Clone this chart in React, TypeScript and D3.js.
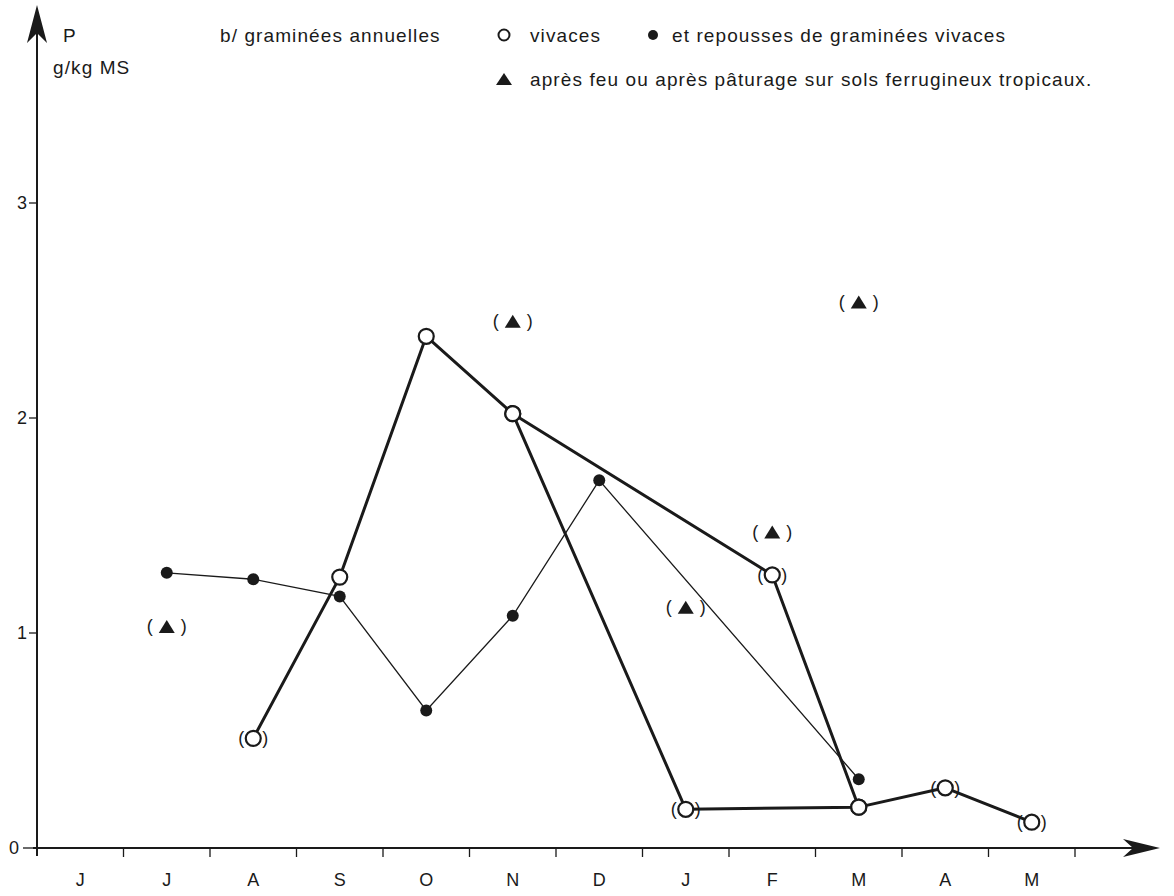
import React, { useRef, useEffect } from "react";
import * as d3 from "d3";

// months from June to May
const months = ["juin", "juil", "août", "sept", "oct", "nov", "déc", "janv", "févr", "mars", "avr", "mai"];
const monthLabels = ["J", "J", "A", "S", "O", "N", "D", "J", "F", "M", "A", "M"];
const yTicks = [0, 1, 2, 3];

// ● repousses (thin line)
const repoussesMonths = ["juil", "août", "sept", "oct", "nov", "déc", "mars"];
const repoussesValues = [1.28, 1.25, 1.17, 0.64, 1.08, 1.71, 0.32];

// ○ vivaces, first curve
const vivaces1Months = ["août", "sept", "oct", "nov", "janv", "mars", "avr", "mai"];
const vivaces1Values = [0.51, 1.26, 2.38, 2.02, 0.18, 0.19, 0.28, 0.12];
const vivaces1Paren = [true, false, false, false, true, false, true, true];

// ○ vivaces, second curve
const vivaces2Months = ["nov", "févr", "mars"];
const vivaces2Values = [2.02, 1.27, 0.19];
const vivaces2Paren = [false, true, false];

// ▲ après feu ou pâturage
const feuMonths = ["juil", "nov", "janv", "févr", "mars"];
const feuValues = [1.03, 2.45, 1.12, 1.47, 2.54];

const W = 1174;
const H = 896;
const FONT = "'Liberation Sans', Arial, Helvetica, sans-serif";
const INK = "#1a1a1a";

const App = () => {
  const svgRef = useRef<SVGSVGElement>(null);

  useEffect(() => {
    const svg = d3.select(svgRef.current);
    svg.selectAll("*").remove();

    const x0 = 37;
    const y0 = 848;
    const x = d3.scaleBand().domain(months).range([x0, 1075]).paddingInner(0).paddingOuter(0);
    const cx = (m) => (x(m) as number) + x.bandwidth() / 2;
    const y = d3.scaleLinear().domain([0, 3]).range([y0, 203]);

    svg.append("rect").attr("width", W).attr("height", H).attr("fill", "#fff");

    // axes lines
    const tipX = 1160;
    svg.append("line").attr("x1", 33).attr("x2", tipX - 20).attr("y1", y0).attr("y2", y0)
      .attr("stroke", INK).attr("stroke-width", 2);
    svg.append("path")
      .attr("d", `M${tipX},${y0} L${tipX - 37},${y0 - 9} L${tipX - 27},${y0} L${tipX - 37},${y0 + 9} Z`)
      .attr("fill", INK);

    const tipY = 5;
    svg.append("line").attr("x1", x0).attr("x2", x0).attr("y1", y0 + 8).attr("y2", tipY + 20)
      .attr("stroke", INK).attr("stroke-width", 2);
    svg.append("path")
      .attr("d", `M${x0},${tipY} L${x0 - 10},${tipY + 38} L${x0},${tipY + 28} L${x0 + 10},${tipY + 38} Z`)
      .attr("fill", INK);

    // x ticks at month boundaries
    svg.append("g")
      .selectAll("line")
      .data(months.slice(1).concat(["end"]))
      .join("line")
      .attr("x1", (d) => (d === "end" ? x0 + x.bandwidth() * months.length : (x(d) as number)))
      .attr("x2", (d) => (d === "end" ? x0 + x.bandwidth() * months.length : (x(d) as number)))
      .attr("y1", y0)
      .attr("y2", y0 + 9)
      .attr("stroke", INK)
      .attr("stroke-width", 1.3);

    svg.append("g")
      .selectAll("text")
      .data(months)
      .join("text")
      .attr("x", (d) => cx(d))
      .attr("y", 886)
      .attr("text-anchor", "middle")
      .attr("font-family", FONT)
      .attr("font-size", 18)
      .attr("fill", INK)
      .text((d, i) => monthLabels[i]);

    // y ticks
    const yAxis = svg.append("g");
    yAxis.selectAll("line")
      .data(yTicks)
      .join("line")
      .attr("x1", (d) => (d === 0 ? 23 : 29))
      .attr("x2", x0)
      .attr("y1", (d) => y(d))
      .attr("y2", (d) => y(d))
      .attr("stroke", INK)
      .attr("stroke-width", 1.3);
    yAxis.selectAll("text")
      .data(yTicks)
      .join("text")
      .attr("x", (d) => (d === 0 ? 19 : 27))
      .attr("y", (d) => y(d))
      .attr("dy", "0.36em")
      .attr("text-anchor", "end")
      .attr("font-family", FONT)
      .attr("font-size", 18)
      .attr("fill", INK)
      .text((d) => d);

    // axis title + legend
    const txt = (tx, ty, s, sp = 1.1) =>
      svg.append("text").attr("x", tx).attr("y", ty).attr("font-family", FONT)
        .attr("font-size", 19).attr("letter-spacing", sp).attr("fill", INK).text(s);
    txt(63, 42, "P");
    txt(53, 74, "g/kg MS");
    txt(220, 42, "b/ graminées annuelles");
    svg.append("circle").attr("cx", 504).attr("cy", 35).attr("r", 5.5)
      .attr("fill", "#fff").attr("stroke", INK).attr("stroke-width", 2);
    txt(530, 42, "vivaces");
    svg.append("circle").attr("cx", 653).attr("cy", 35).attr("r", 5).attr("fill", INK);
    txt(672, 42, "et repousses de graminées vivaces");
    svg.append("path").attr("d", `M${496},${85} L${512},${85} L${504},${73} Z`).attr("fill", INK);
    txt(530, 86, "après feu ou après pâturage sur sols ferrugineux tropicaux.");

    const line = d3.line().x((d) => cx(d.m)).y((d) => y(d.v));
    const zip = (ms, vs, ps?) => ms.map((m, i) => ({ m, v: vs[i], p: ps ? ps[i] : false }));

    const rep = zip(repoussesMonths, repoussesValues);
    const viv1 = zip(vivaces1Months, vivaces1Values, vivaces1Paren);
    const viv2 = zip(vivaces2Months, vivaces2Values, vivaces2Paren);
    const feu = zip(feuMonths, feuValues);

    svg.append("path").attr("d", line(rep)).attr("fill", "none")
      .attr("stroke", INK).attr("stroke-width", 1.3);
    [viv1, viv2].forEach((s) =>
      svg.append("path").attr("d", line(s)).attr("fill", "none")
        .attr("stroke", INK).attr("stroke-width", 3).attr("stroke-linejoin", "round"));

    svg.append("g").selectAll("circle")
      .data(rep)
      .join("circle")
      .attr("cx", (d) => cx(d.m))
      .attr("cy", (d) => y(d.v))
      .attr("r", 6)
      .attr("fill", INK);

    const open = viv1.concat(viv2);
    svg.append("g").selectAll("circle")
      .data(open)
      .join("circle")
      .attr("cx", (d) => cx(d.m))
      .attr("cy", (d) => y(d.v))
      .attr("r", 7.5)
      .attr("fill", "#fff")
      .attr("stroke", INK)
      .attr("stroke-width", 2.2);

    const parens = svg.append("g").attr("font-family", FONT).attr("font-size", 18).attr("fill", INK);
    open.filter((d) => d.p).forEach((d) => {
      parens.append("text").attr("x", cx(d.m) - 12).attr("y", y(d.v)).attr("dy", "0.33em")
        .attr("text-anchor", "middle").text("(");
      parens.append("text").attr("x", cx(d.m) + 12).attr("y", y(d.v)).attr("dy", "0.33em")
        .attr("text-anchor", "middle").text(")");
    });

    feu.forEach((d) => {
      const px = cx(d.m);
      const py = y(d.v);
      svg.append("path")
        .attr("d", `M${px - 8},${py + 6.5} L${px + 8},${py + 6.5} L${px},${py - 6.5} Z`)
        .attr("fill", INK);
      parens.append("text").attr("x", px - 17).attr("y", py).attr("dy", "0.33em")
        .attr("text-anchor", "middle").text("(");
      parens.append("text").attr("x", px + 17).attr("y", py).attr("dy", "0.33em")
        .attr("text-anchor", "middle").text(")");
    });
  }, []);

  return (
    <svg
      ref={svgRef}
      width={W}
      height={H}
      style={{ position: "absolute", left: 0, top: 0 }}
    ></svg>
  );
};

export default App;
